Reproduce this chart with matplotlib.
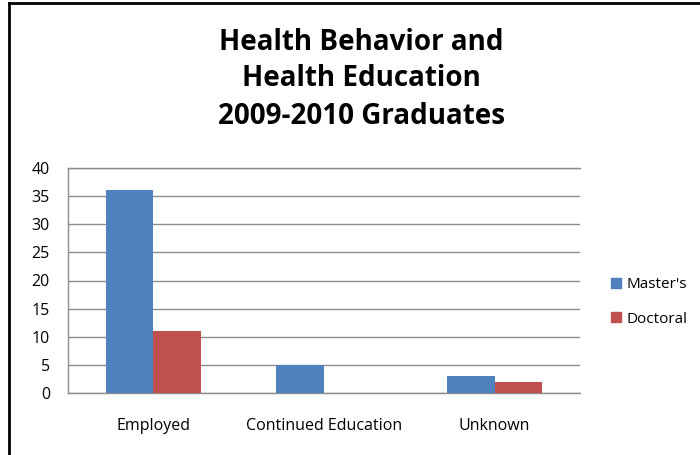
import matplotlib.pyplot as plt
import matplotlib.patches as patches
from matplotlib.lines import Line2D
import numpy as np

# data
categories = ["Employed", "Continued Education", "Unknown"]
series_names = ["Master's", "Doctoral"]
masters = [36, 5, 3]
doctoral = [11, 0, 2]
y_ticks = [0, 5, 10, 15, 20, 25, 30, 35, 40]
title_lines = ["Health Behavior and", "Health Education", "2009-2010 Graduates"]

blue = "#4F81BD"
red = "#C0504D"
grid_grey = "#8C8C8C"

plt.rcParams['font.family'] = ['Open Sans', 'DejaVu Sans']

fig = plt.figure(figsize=(7, 4.55), dpi=100)
ax = fig.add_axes([68 / 700, 1 - 393 / 455, 512 / 700, 225 / 455])

x = np.arange(len(categories))
w = 0.28
ax.bar(x - w / 2, masters, w, color=blue, label=series_names[0], zorder=3)
ax.bar(x + w / 2, doctoral, w, color=red, label=series_names[1], zorder=3)

ax.set_xlim(-0.5, len(categories) - 0.5)
ax.set_ylim(0, 40)
ax.set_yticks(y_ticks)
ax.set_xticks(x)
ax.set_xticklabels(categories, fontsize=11.5)
ax.tick_params(axis='y', length=0, pad=13, labelsize=11.5)
ax.tick_params(axis='x', length=0, pad=18)
ax.yaxis.grid(True, color=grid_grey, linewidth=1, zorder=0)
for s in ax.spines.values():
    s.set_color(grid_grey)
    s.set_linewidth(1)
ax.spines['right'].set_visible(False)

# title, one line at a time (baselines)
for i, base in enumerate([50, 86, 124]):
    fig.text(361 / 700, 1 - base / 455, title_lines[i], ha='center', va='baseline',
             fontsize=20, fontweight='bold')

handles = [patches.Patch(color=blue, label=series_names[0]),
           patches.Patch(color=red, label=series_names[1])]
fig.legend(handles=handles, loc='center left', bbox_to_anchor=(597 / 700, 1 - 302 / 455),
           frameon=False, fontsize=11, handlelength=0.65, handleheight=0.65,
           handletextpad=0.35, labelspacing=1.25)

# outer frame: top and left edges only
fig.add_artist(Line2D([9 / 700, 1], [1 - 3 / 455, 1 - 3 / 455], color='black', linewidth=2,
                      transform=fig.transFigure))
fig.add_artist(Line2D([9 / 700, 9 / 700], [0, 1 - 3 / 455], color='black', linewidth=2,
                      transform=fig.transFigure))

fig.savefig("out.png", dpi=100)
